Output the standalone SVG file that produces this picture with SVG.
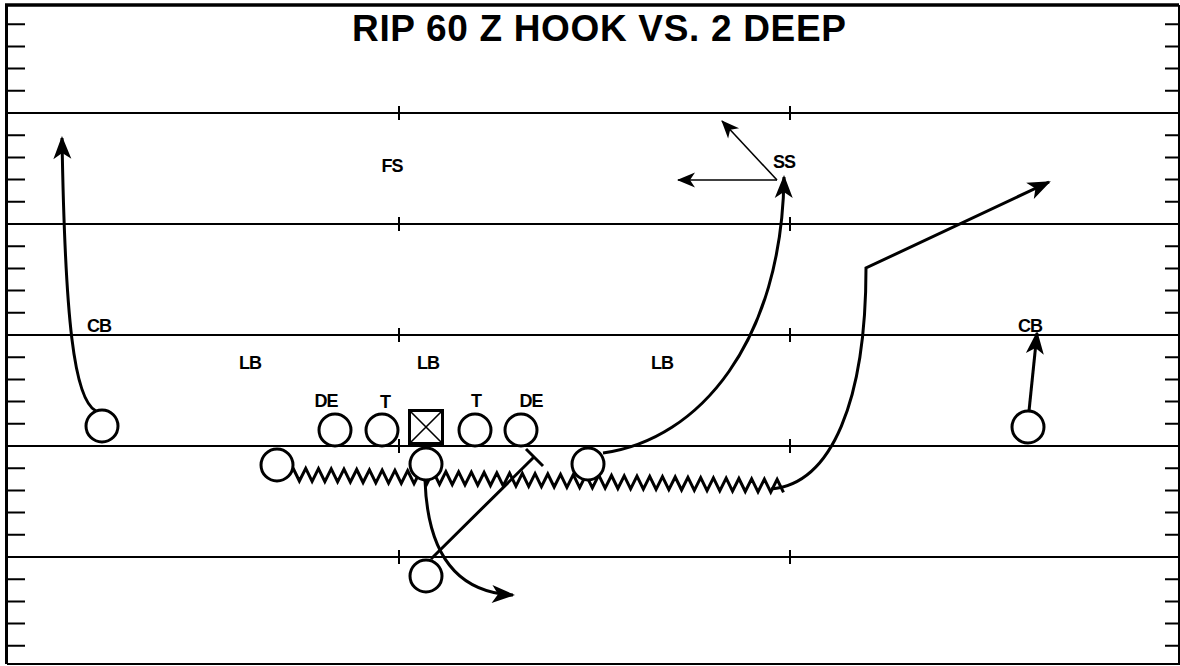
<svg xmlns="http://www.w3.org/2000/svg" width="1180" height="666" viewBox="0 0 1180 666">
<style>
.fl{stroke:#000;stroke-width:1.8;fill:none}
.tk{stroke:#000;stroke-width:2;fill:none}
.pl{fill:#fff;stroke:#000;stroke-width:3}
.rt{fill:none;stroke:#000;stroke-width:3;stroke-linejoin:miter}
.th{fill:none;stroke:#000;stroke-width:1.6}
.lb{font-family:"Liberation Sans",Arial,sans-serif;font-weight:bold;font-size:18px;letter-spacing:-1px;text-anchor:middle;fill:#000}
.ti{font-family:"Liberation Sans",Arial,sans-serif;font-weight:bold;font-size:37px;fill:#000}
</style>
<defs>
<marker id="ah" markerUnits="userSpaceOnUse" orient="auto" overflow="visible" markerWidth="30" markerHeight="30" refX="0" refY="0"><path d="M2,0 L-21,-9 L-15,0 L-21,9 Z" fill="#000"/></marker>
<marker id="as" markerUnits="userSpaceOnUse" orient="auto" overflow="visible" markerWidth="30" markerHeight="30" refX="0" refY="0"><path d="M1,0 L-17,-7.5 L-12,0 L-17,7.5 Z" fill="#000"/></marker>
</defs>
<rect width="1180" height="666" fill="#fff"/>
<g id="field">
<path class="fl" d="M7,113H1179M7,224H1179M7,335H1179M7,446H1179M7,557H1179"/>
<path class="tk" d="M399,106V120M790,106V120M399,217V231M790,217V231M399,328V342M790,328V342M399,439V453M790,439V453M399,550V564M790,550V564"/>
<path class="tk" d="M8,24.2H25M8,46.4H25M8,68.6H25M8,90.8H25M8,135.2H25M8,157.4H25M8,179.6H25M8,201.8H25M8,246.2H25M8,268.4H25M8,290.6H25M8,312.8H25M8,357.2H25M8,379.4H25M8,401.6H25M8,423.8H25M8,468.2H25M8,490.4H25M8,512.6H25M8,534.8H25M8,579.2H25M8,601.4H25M8,623.6H25M8,645.8H25"/>
<path class="tk" d="M1165,24.2H1179M1165,46.4H1179M1165,68.6H1179M1165,90.8H1179M1165,135.2H1179M1165,157.4H1179M1165,179.6H1179M1165,201.8H1179M1165,246.2H1179M1165,268.4H1179M1165,290.6H1179M1165,312.8H1179M1165,357.2H1179M1165,379.4H1179M1165,401.6H1179M1165,423.8H1179M1165,468.2H1179M1165,490.4H1179M1165,512.6H1179M1165,534.8H1179M1165,579.2H1179M1165,601.4H1179M1165,623.6H1179M1165,645.8H1179"/>
<path d="M6.5,664V5" stroke="#000" stroke-width="3" fill="none"/>
<path d="M5,5H1179" stroke="#000" stroke-width="3.5" fill="none"/>
<path d="M1179,5V664H7" stroke="#000" stroke-width="2" fill="none"/>
</g>
<text class="ti" x="352" y="41" textLength="494" lengthAdjust="spacing">RIP 60 Z HOOK VS. 2 DEEP</text>
<g id="connectors">
<path class="rt" marker-end="url(#ah)" d="M96,411 C74,400 65,320 62,138"/>
<path class="rt" marker-end="url(#ah)" d="M603,453 C700,440 782,340 784,177"/>
<path class="rt" d="M293,468 l6.37,13 l6.37,-12.7 l6.37,13 l6.37,-12.7 l6.37,13 l6.37,-12.7 l6.37,13 l6.37,-12.7 l6.37,13 l6.37,-12.7 l6.37,13 l6.37,-12.7 l6.37,13 l6.37,-12.7 l6.37,13 l6.37,-12.7 l6.37,13 l6.37,-12.7 l6.37,13 l6.37,-12.7 l6.37,13 l6.37,-12.7 l6.37,13 l6.37,-12.7 l6.37,13 l6.37,-12.7 l6.37,13 l6.37,-12.7 l6.37,13 l6.37,-12.7 l6.37,13 l6.37,-12.7 l6.37,13 l6.37,-12.7 l6.37,13 l6.37,-12.7 l6.37,13 l6.37,-12.7 l6.37,13 l6.37,-12.7 l6.37,13 l6.37,-12.7 l6.37,13 l6.37,-12.7 l6.37,13 l6.37,-12.7 l6.37,13 l6.37,-12.7 l6.37,13 l6.37,-12.7 l6.37,13 l6.37,-12.7 l6.37,13 l6.37,-12.7 l6.37,13 l6.37,-12.7 l6.37,13 l6.37,-12.7 l6.37,13 l6.37,-12.7 l6.37,13 l6.37,-12.7 l6.37,13 l6.37,-12.7 l6.37,13 l6.37,-12.7 l6.37,13 l6.37,-12.7 l6.37,13 l6.37,-12.7 l6.37,13 l6.37,-12.7 l6.37,13 l6.37,-12.7 l6.37,13 l6.37,-12.7 l6.37,13"/>
<path class="rt" marker-end="url(#ah)" d="M771,489 C832,484 866,400 866,268 L1049,182"/>
<path class="rt" marker-end="url(#ah)" d="M1029,411 L1037,333"/>
<path class="rt" marker-end="url(#ah)" d="M425,480 C427,540 447,592 513,595"/>
<path class="rt" stroke-width="2.6" d="M431,559 L534,457 M526,449 L543,466"/>
<path class="th" marker-end="url(#as)" d="M777,180 L678,180"/>
<path class="th" marker-end="url(#as)" d="M777,180 L722,121"/>
</g>
<g id="wr-left"><circle class="pl" cx="102" cy="426" r="16"/></g>
<g id="slot-left"><circle class="pl" cx="277" cy="465" r="16"/></g>
<g id="te-left"><circle class="pl" cx="335" cy="430" r="16"/></g>
<g id="lg"><circle class="pl" cx="382" cy="430" r="16"/></g>
<g id="center"><rect class="pl" x="409.5" y="410.5" width="33" height="33"/><path class="th" stroke-width="1.2" d="M409.5,410.5 L442.5,443.5 M442.5,410.5 L409.5,443.5"/></g>
<g id="rg"><circle class="pl" cx="475" cy="430" r="16"/></g>
<g id="rt"><circle class="pl" cx="521" cy="430" r="16"/></g>
<g id="qb"><circle class="pl" cx="426" cy="464" r="16"/></g>
<g id="slot-right"><circle class="pl" cx="588" cy="464" r="16"/></g>
<g id="rb"><circle class="pl" cx="426" cy="576" r="16"/></g>
<g id="wr-right"><circle class="pl" cx="1028" cy="427" r="16"/></g>
<g id="def-cb-left"><text class="lb" x="99" y="332">CB</text></g>
<g id="def-lb-left"><text class="lb" x="250" y="369">LB</text></g>
<g id="def-lb-mid"><text class="lb" x="428" y="369">LB</text></g>
<g id="def-lb-right"><text class="lb" x="662" y="369">LB</text></g>
<g id="def-de-left"><text class="lb" x="326" y="407">DE</text></g>
<g id="def-t-left"><text class="lb" x="385" y="408">T</text></g>
<g id="def-t-right"><text class="lb" x="476" y="407">T</text></g>
<g id="def-de-right"><text class="lb" x="531" y="407">DE</text></g>
<g id="def-fs"><text class="lb" x="392" y="172">FS</text></g>
<g id="def-ss"><text class="lb" x="784" y="168">SS</text></g>
<g id="def-cb-right"><text class="lb" x="1030" y="332">CB</text></g>
</svg>
